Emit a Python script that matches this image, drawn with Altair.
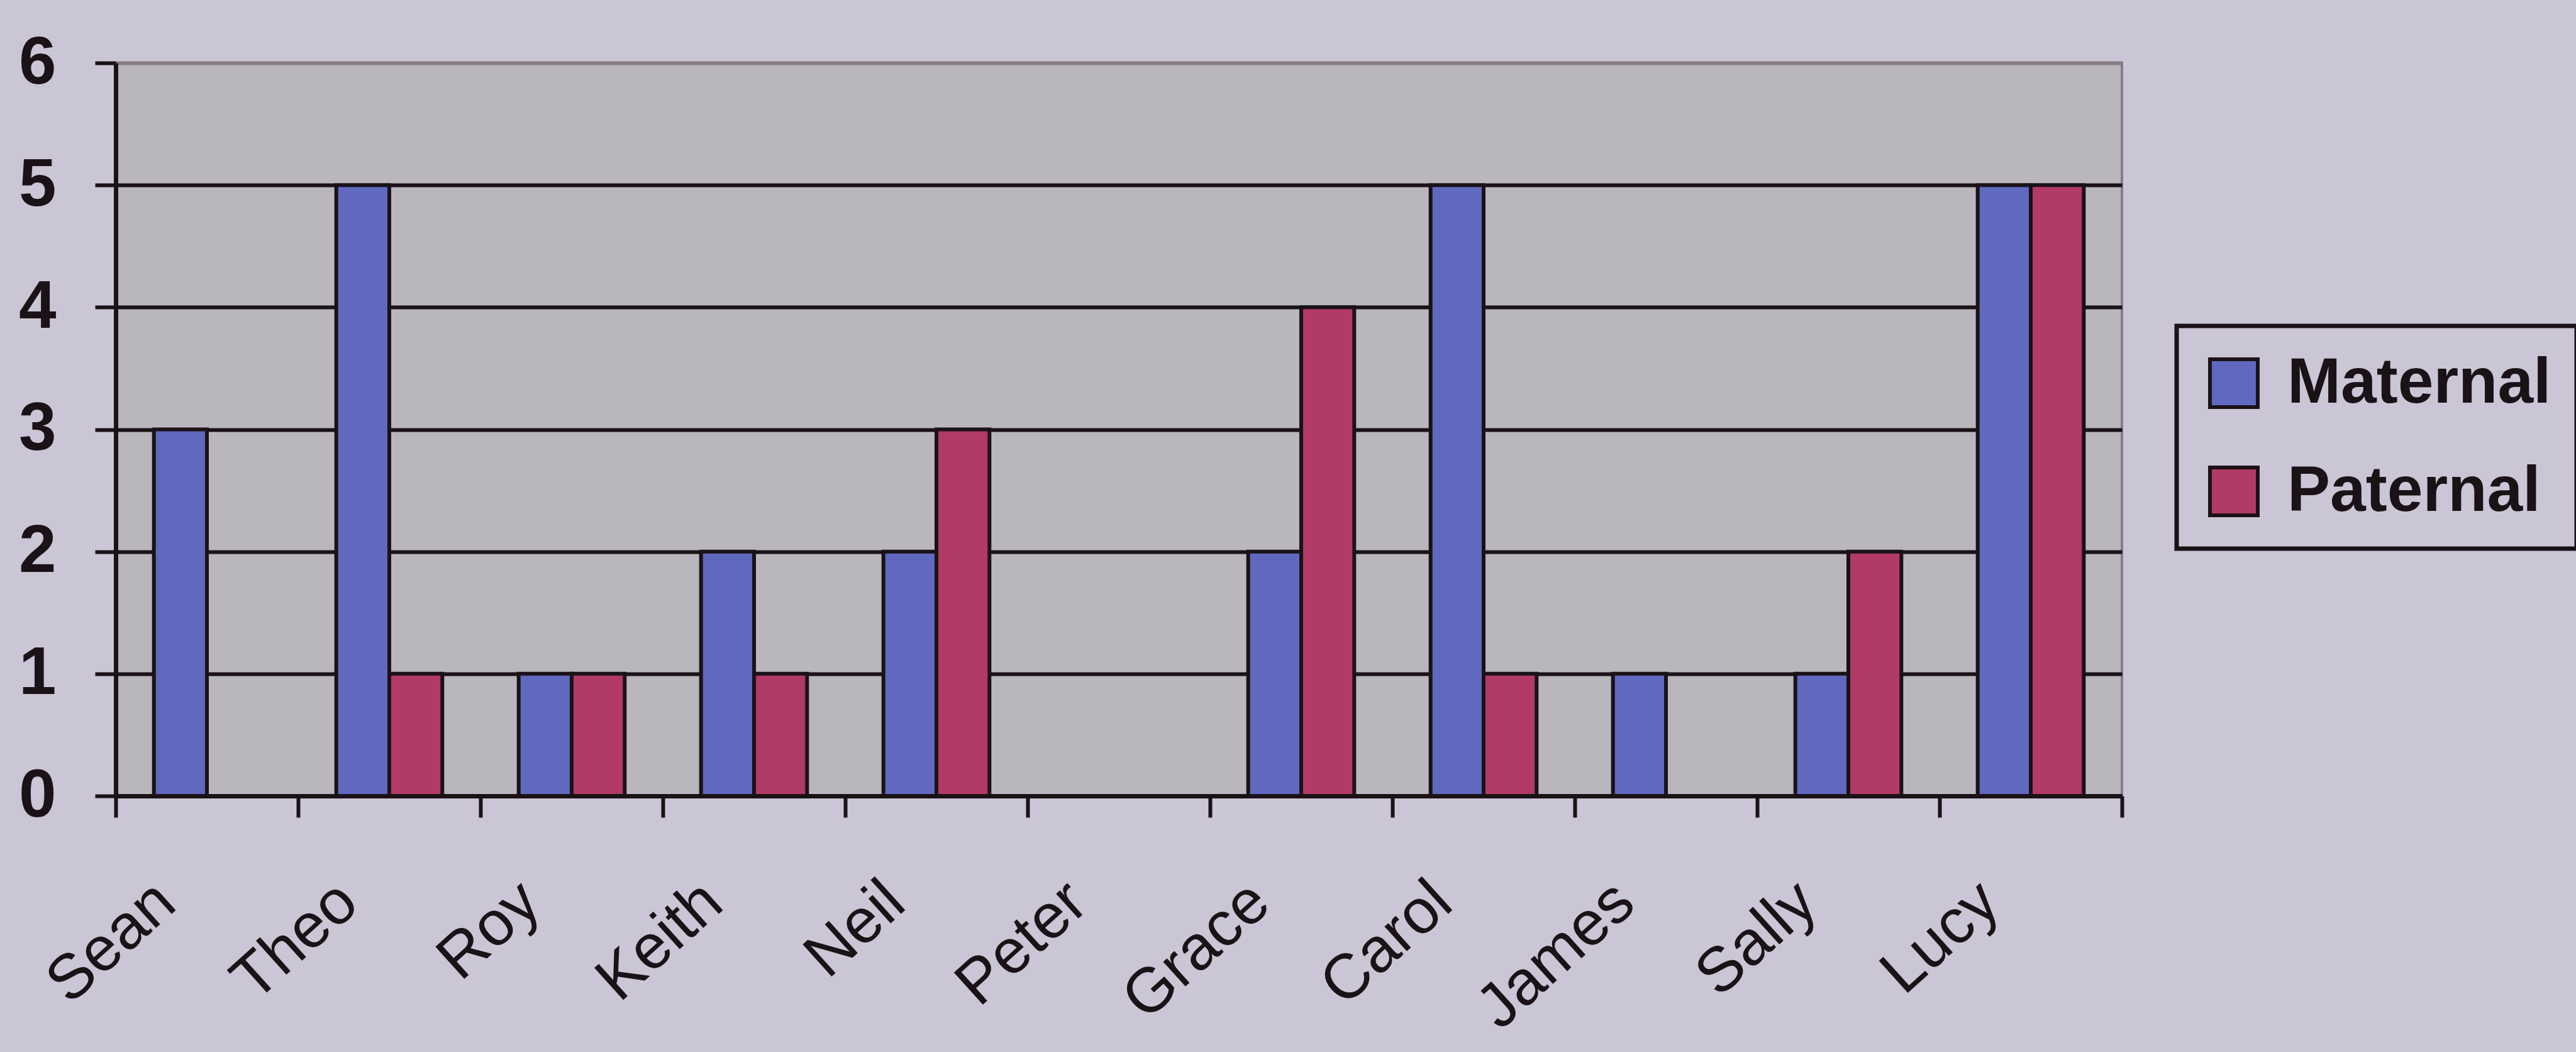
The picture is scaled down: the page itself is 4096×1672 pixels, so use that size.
import altair as alt
import pandas as pd

# Number of inherited variants per person, split by parent of origin
names = ["Sean", "Theo", "Roy", "Keith", "Neil", "Peter",
         "Grace", "Carol", "James", "Sally", "Lucy"]
maternal = [3, 5, 1, 2, 2, 0, 2, 5, 1, 1, 5]
paternal = [0, 1, 1, 1, 3, 0, 4, 1, 0, 2, 5]
series = ["Maternal", "Paternal"]
series_colors = ["#6068C0", "#B23A66"]

rows = []
for n, m, p in zip(names, maternal, paternal):
    rows.append({"name": n, "origin": "Maternal", "count": m})
    rows.append({"name": n, "origin": "Paternal", "count": p})
df = pd.DataFrame(rows)

INK = "#1a1216"
PAGE = "#CBC6D5"
PLOT_BG = "#B9B6BD"

W, H = 3190, 1165
LEFT, TOP = 184, 100

bars = alt.Chart(df).mark_bar(
    stroke=INK, strokeWidth=6
).encode(
    x=alt.X(
        "name:N",
        sort=names,
        scale=alt.Scale(paddingInner=0, paddingOuter=0),
        axis=alt.Axis(
            title=None,
            grid=False,
            labelAngle=-42,
            labelAlign="right",
            labelBaseline="top",
            labelFont="Liberation Sans",
            labelFontSize=100,
            labelFontWeight="normal",
            labelColor=INK,
            labelPadding=84,
            labelOffset=-98,
            labelLimit=0,
            labelOverlap=False,
            tickBand="extent",
            tickSize=34,
            tickWidth=6,
            tickColor=INK,
            domainColor=INK,
            domainWidth=7,
        ),
    ),
    xOffset=alt.XOffset(
        "origin:N",
        sort=series,
        scale=alt.Scale(paddingOuter=0.72, paddingInner=0),
    ),
    y=alt.Y(
        "count:Q",
        scale=alt.Scale(domain=[0, 6], nice=False),
        axis=alt.Axis(
            title=None,
            values=[0, 1, 2, 3, 4, 5, 6],
            format="d",
            labelFont="Liberation Sans",
            labelFontSize=107,
            labelFontWeight="bold",
            labelColor=INK,
            labelPadding=62,
            tickSize=33,
            tickWidth=6,
            tickColor=INK,
            domainColor=INK,
            domainWidth=7,
            grid=True,
            gridWidth=6,
            gridColor=alt.condition(
                "datum.value >= 6", alt.value("#857c82"), alt.value(INK)
            ),
        ),
    ),
    color=alt.Color(
        "origin:N",
        sort=series,
        scale=alt.Scale(domain=series, range=series_colors),
        legend=alt.Legend(
            title=None,
            orient="none",
            legendX=3461 - LEFT,
            legendY=518 - TOP,
            padding=40,
            strokeColor=INK,
            fillColor=PAGE,
            symbolType="square",
            symbolSize=5776,
            symbolStrokeColor=INK,
            symbolStrokeWidth=6,
            symbolOpacity=1,
            labelFont="Liberation Sans",
            labelFontSize=102,
            labelFontWeight="bold",
            labelColor=INK,
            labelOffset=34,
            labelLimit=0,
            rowPadding=70,
        ),
    ),
).properties(
    width=W,
    height=H,
    autosize=alt.AutoSizeParams(type="none"),
    padding={"left": LEFT, "top": TOP, "right": 4096 - LEFT - W, "bottom": 1672 - TOP - H},
)

chart = bars.configure(
    background=PAGE,
).configure_view(
    fill=PLOT_BG,
    stroke="#857c82",
    strokeWidth=4,
).configure_legend(
    strokeWidth=7,
)

chart.save("out.html", embed_options={"renderer": "svg", "actions": False})
